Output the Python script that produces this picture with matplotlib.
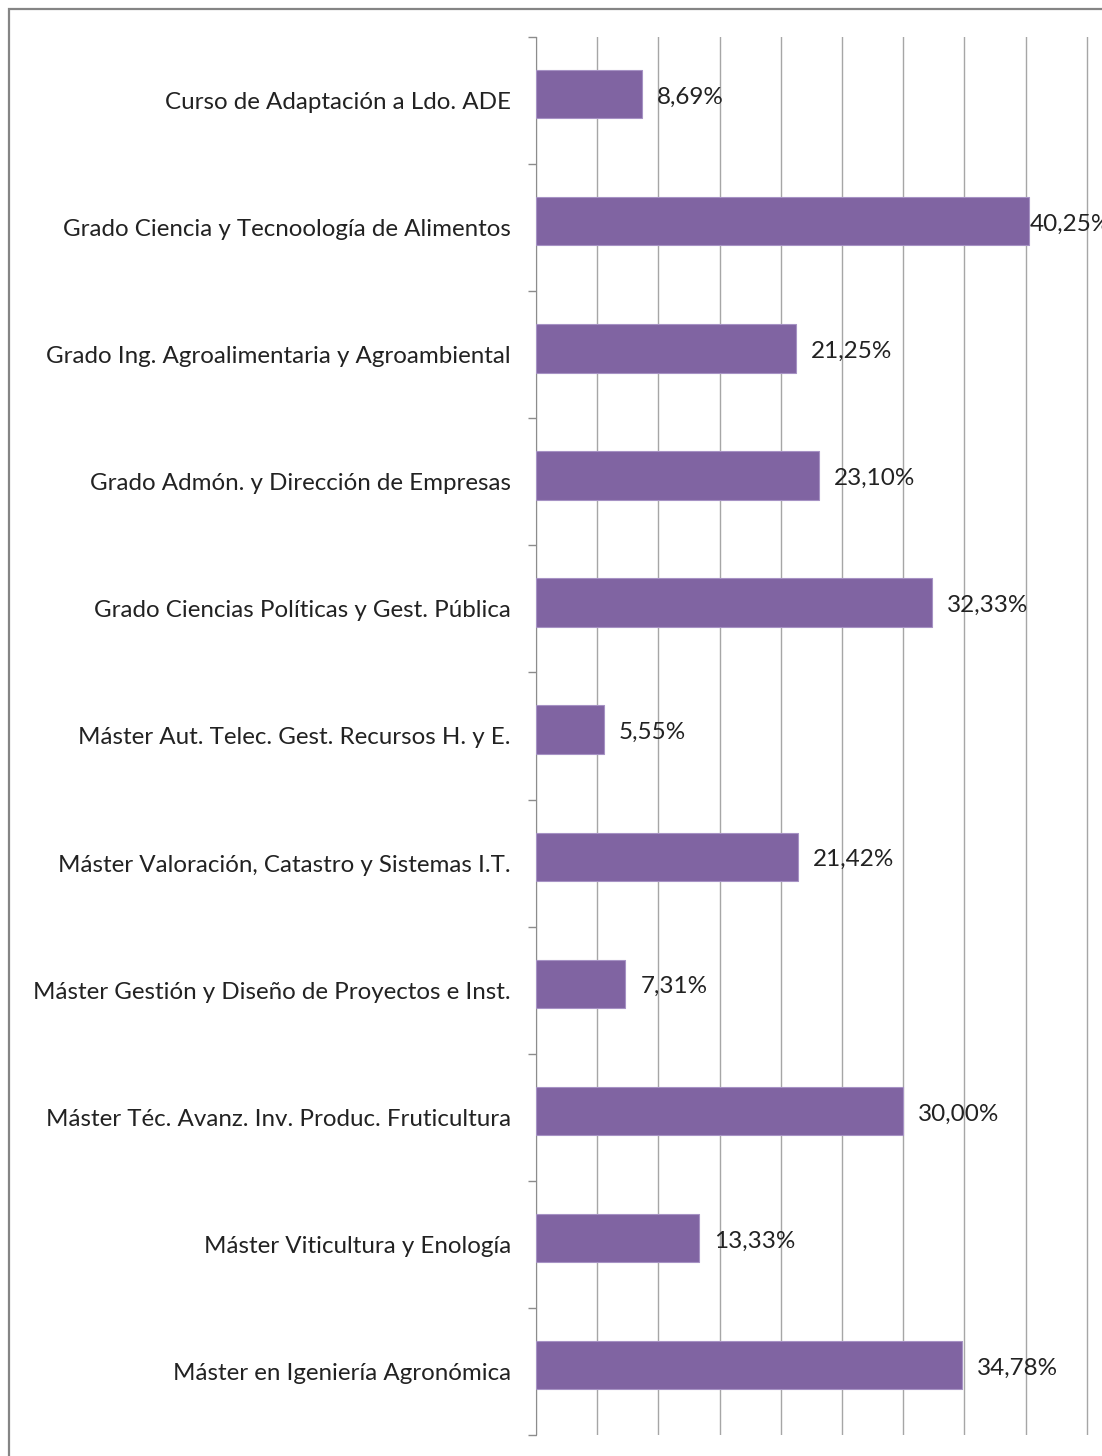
import numpy as np
import matplotlib.pyplot as plt
from matplotlib.patches import Rectangle

categorias = [
    "Curso de Adaptación a Ldo. ADE",
    "Grado Ciencia y Tecnoología de Alimentos",
    "Grado Ing. Agroalimentaria y Agroambiental",
    "Grado Admón. y Dirección de Empresas",
    "Grado Ciencias Políticas y Gest. Pública",
    "Máster Aut. Telec. Gest. Recursos H. y E.",
    "Máster Valoración, Catastro y Sistemas I.T.",
    "Máster Gestión y Diseño de Proyectos e Inst.",
    "Máster Téc. Avanz. Inv. Produc. Fruticultura",
    "Máster Viticultura y Enología",
    "Máster en Igeniería Agronómica",
]
valores = [8.69, 40.25, 21.25, 23.10, 32.33, 5.55, 21.42, 7.31, 30.00, 13.33, 34.78]
etiquetas = ["8,69%", "40,25%", "21,25%", "23,10%", "32,33%", "5,55%",
             "21,42%", "7,31%", "30,00%", "13,33%", "34,78%"]

plt.rcParams['font.family'] = ['Lato', 'DejaVu Sans']

W, H = 1102, 1456
fig = plt.figure(figsize=(W / 100, H / 100), dpi=100)

# marco exterior del gráfico (recortado a la derecha y abajo)
fig.patches.append(Rectangle((9 / W, -0.1), 1.2, (H - 9) / H + 0.1, transform=fig.transFigure,
                             fill=False, edgecolor='#858585', linewidth=1.6))

x0, y0, y1 = 536, 37, 1435
ax = fig.add_axes([x0 / W, 1 - y1 / H, (W - x0) / W, (y1 - y0) / H])
xmax = (W - x0) / 12.24
ax.set_xlim(0, xmax)
n = len(categorias)
ax.set_ylim(n - 0.5, -0.5)

y = np.arange(n)
yb = y - 0.05  # las barras quedan algo por encima del centro de la categoría
ax.barh(yb, valores, height=0.38, color='#8064A2', edgecolor='#a692c4', linewidth=0.8, zorder=3)

for yi, v, t in zip(yb, valores, etiquetas):
    off = 1 if v > 40 else 15
    ax.annotate(t, (v, yi), xytext=(off, -3), textcoords='offset pixels',
                ha='left', va='center', fontsize=17.5, color='#222222', zorder=4,
                annotation_clip=False)

ax.set_xticks(np.arange(0, xmax, 5))
ax.tick_params(axis='x', length=0, labelbottom=False)
ax.grid(axis='x', color='#a6a6a6', linewidth=1.0, zorder=0)

ax.set_yticks(y)
ax.set_yticklabels(categorias, fontsize=17.4, color='#222222')
ax.set_yticks(np.arange(n + 1) - 0.5, minor=True)
ax.tick_params(axis='y', which='major', length=0, pad=18)
ax.tick_params(axis='y', which='minor', length=6, width=1, color='#8c8c8c', direction='out')

for s in ['top', 'right', 'bottom']:
    ax.spines[s].set_visible(False)
ax.spines['left'].set_color('#8c8c8c')

fig.savefig('out.png', dpi=100)
